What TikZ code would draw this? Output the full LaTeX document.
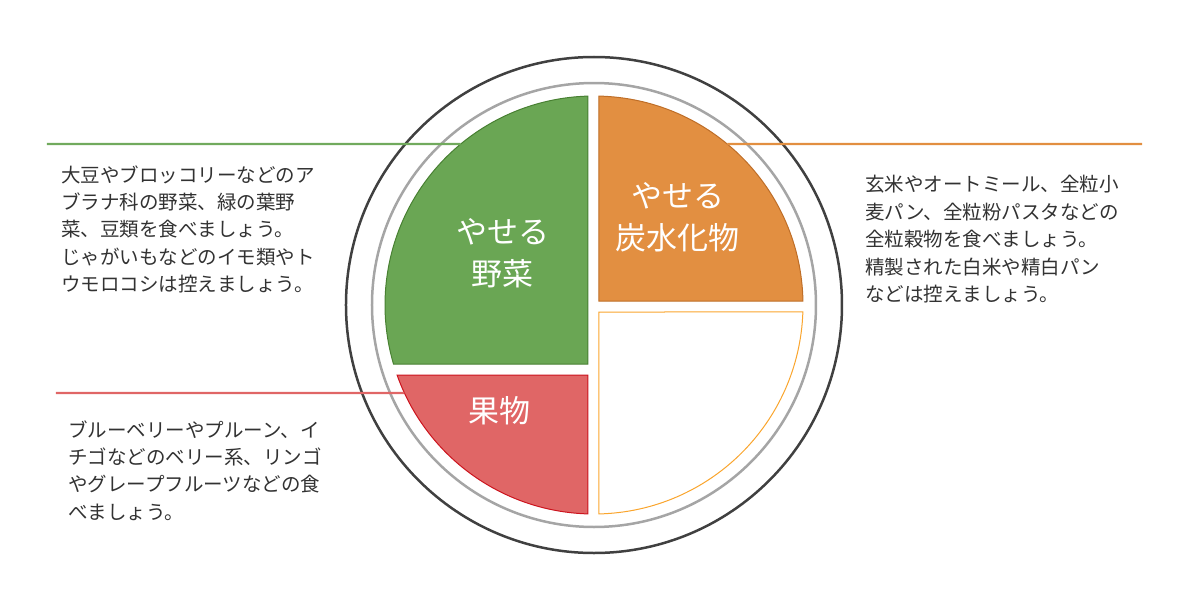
\documentclass[tikz,border=0pt]{standalone}
\usepackage{fontspec}
\setmainfont{Noto Sans CJK JP}
\definecolor{rimdark}{RGB}{64,64,64}
\definecolor{rimgray}{RGB}{165,165,165}
\definecolor{textgray}{RGB}{50,50,50}
\definecolor{vegfill}{RGB}{106,166,84}
\definecolor{vegdraw}{RGB}{72,128,50}
\definecolor{carbfill}{RGB}{226,143,65}
\definecolor{carbdraw}{RGB}{190,110,40}
\definecolor{fruitfill}{RGB}{224,102,102}
\definecolor{fruitdraw}{RGB}{204,20,30}
\definecolor{emptydraw}{RGB}{250,165,45}
\usetikzlibrary{positioning}

\begin{document}
\begin{tikzpicture}[x=0.5pt,y=0.5pt,
  notetext/.style={anchor=north west,inner sep=0pt,align=left,text=textgray,
    font=\fontsize{9.75}{13.7}\selectfont},
  foodname/.style={inner sep=0pt,align=center,text=white,
    font=\fontsize{15.5}{21}\selectfont},
  part/.style={line width=0.5pt},
  pointer/.style={line width=1.2pt}]
  \useasboundingbox (-594,-301) rectangle (596,305);
  % Plate
  \draw[line width=1.25pt,rimdark] (0,0) circle[radius=248];
  \draw[line width=1.25pt,rimgray] (0,0) circle[radius=222];
  % Quarters of the plate
  \filldraw[part,fill=vegfill,draw=vegdraw] (-6,-59) -- (91.645:209)
    arc[start angle=91.645,end angle=196.40,radius=209] -- cycle;
  \filldraw[part,fill=fruitfill,draw=fruitdraw] (-6,-70) -- (199.57:209)
    arc[start angle=199.57,end angle=268.355,radius=209] -- cycle;
  \filldraw[part,fill=carbfill,draw=carbdraw] (5,4) -- (1.097:209)
    arc[start angle=1.097,end angle=88.629,radius=209] -- cycle;
  \filldraw[part,fill=white,draw=emptydraw] (5,-7) -- (271.371:209)
    arc[start angle=271.371,end angle=358.081,radius=209] -- cycle;
  % Names on the plate
  \node[foodname] (vegname) at (-91,52) {やせる\\野菜};
  \node[foodname] (carbname) at (84,88) {やせる\\炭水化物};
  \node[foodname] (fruitname) at (-94,-106) {果物};
  % Pointer lines
  \coordinate (vegend) at (-547,161);
  \coordinate (vegedge) at (129.63:209);
  \coordinate (carbend) at (548,161);
  \coordinate (carbedge) at (50.37:209);
  \coordinate (fruitend) at (-538,-88);
  \coordinate (fruitedge) at (204.90:209);
  \draw[pointer,vegfill!95!white] (vegend) -- (vegedge);
  \draw[pointer,carbfill] (carbedge) -- (carbend);
  \draw[pointer,fruitfill] (fruitend) -- (fruitedge);
  % Notes
  \node[notetext] (vegtext) at (-533,140) {大豆やブロッコリーなどのア\\ブラナ科の野菜、緑の葉野\\菜、豆類を食べましょう。\\じゃがいもなどのイモ類やト\\ウモロコシは控えましょう。};
  \node[notetext] (carbtext) at (271,130) {玄米やオートミール、全粒小\\麦パン、全粒粉パスタなどの\\全粒穀物を食べましょう。\\精製された白米や精白パン\\などは控えましょう。};
  \node[notetext] (fruittext) at (-526,-115) {ブルーベリーやプルーン、イ\\チゴなどのベリー系、リンゴ\\やグレープフルーツなどの食\\べましょう。};
\end{tikzpicture}
\end{document}
